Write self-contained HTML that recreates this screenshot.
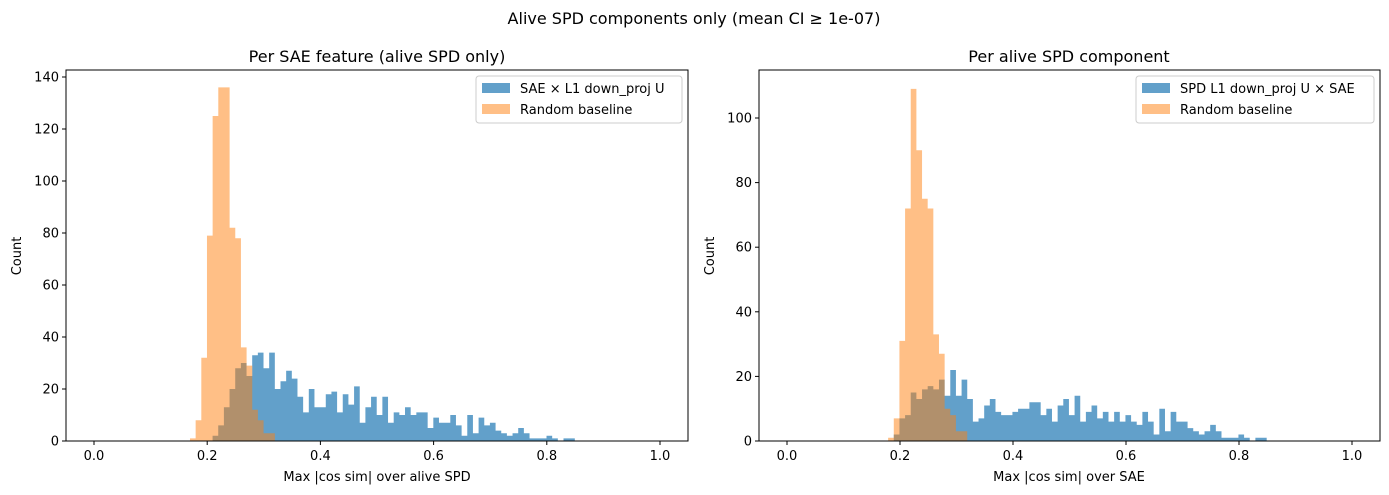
<!DOCTYPE html>
<html><head><meta charset="utf-8"><style>
body{margin:0;background:#fff}
svg{display:block;font-family:"DejaVu Sans","Liberation Sans",sans-serif}
</style></head><body>
<svg id="s" width="1389" height="495" viewBox="0 0 1389 495" xmlns="http://www.w3.org/2000/svg">
<rect width="1389" height="495" fill="#fff"/>
<text x="694" y="24" font-size="16" text-anchor="middle">Alive SPD components only (mean CI ≥ 1e-07)</text>
<text x="377" y="62" font-size="16" text-anchor="middle">Per SAE feature (alive SPD only)</text>
<text x="1069" y="62" font-size="16" text-anchor="middle">Per alive SPD component</text>
<text x="377" y="481" font-size="13" text-anchor="middle">Max |cos sim| over alive SPD</text>
<text x="1069" y="481" font-size="13" text-anchor="middle">Max |cos sim| over SAE</text>
<text transform="translate(21,256) rotate(-90)" font-size="13" text-anchor="middle">Count</text>
<text transform="translate(714,256) rotate(-90)" font-size="13" text-anchor="middle">Count</text>
<g id="g"></g>
</svg>
<script>
const g=document.getElementById('g');let h='';
function stepPath(arr,start,ox,sx,sy){
 const y0=441;let x=ox+sx*start;let d=`M${x},${y0}`;
 arr.forEach((c,i)=>{const a=ox+sx*(start+i*0.01),b=ox+sx*(start+(i+1)*0.01),y=y0-c*sy;d+=`L${a},${y}L${b},${y}`;});
 d+=`L${ox+sx*(start+arr.length*0.01)},${y0}Z`;return d;
}
function axes(x0,x1,ox,sx,sy,tmax,step,bl,blS,or,orS,leg){
 const y0=441;
 h+=`<path d="${stepPath(bl,blS,ox,sx,sy)}" fill="#1f77b4" fill-opacity="0.7"/>`;
 h+=`<path d="${stepPath(or,orS,ox,sx,sy)}" fill="#ff7f0e" fill-opacity="0.5"/>`;
 h+=`<rect x="${x0}" y="70" width="${x1-x0}" height="371" fill="none" stroke="#000" stroke-width="1"/>`;
 for(let v=0;v<=tmax;v+=step){const y=y0-v*sy;h+=`<line x1="${x0}" x2="${x0-4}" y1="${y}" y2="${y}" stroke="#000"/><text x="${x0-7}" y="${y+4.5}" font-size="13" text-anchor="end">${v}</text>`;}
 for(let k=0;k<=5;k++){const v=k*0.2,x=ox+sx*v;h+=`<line x1="${x}" x2="${x}" y1="441" y2="445" stroke="#000"/><text x="${x}" y="460" font-size="13" text-anchor="middle">${v.toFixed(1)}</text>`;}
 const lx=leg.x,lw=leg.w;
 h+=`<rect x="${lx}" y="76" width="${lw}" height="47" rx="3" fill="#fff" fill-opacity="0.8" stroke="#ccc"/>`;
 h+=`<rect x="${lx+6}" y="83" width="28" height="10" fill="#1f77b4" fill-opacity="0.7"/><text x="${lx+44}" y="93" font-size="13">${leg.t}</text>`;
 h+=`<rect x="${lx+6}" y="104" width="28" height="10" fill="#ff7f0e" fill-opacity="0.5"/><text x="${lx+44}" y="114" font-size="13">Random baseline</text>`;
}
const lb=[2,6,13,20,28,30,25,33,34,28,34,20,23,27,24,17,11,20,13,13,18,19,11,18,14,21,7,13,17,10,17,7,11,10,13,10,11,11,5,9,7,7,10,6,2,10,3,9,6,7,4,3,2,3,5,3,1,1,1,2,1,0,1,1];
const lo=[1,8,32,79,125,136,136,82,78,36,29,12,8,3,3];
axes(66,688,94,566,2.6,140,20,lb,0.2095,lo,0.1696,{x:476,w:206,t:"SAE × L1 down_proj U"});
const rb=[2,7,8,15,13,16,17,16,19,14,22,14,19,13,6,7,11,13,9,8,8,9,10,10,12,12,8,10,6,11,13,8,14,6,9,11,7,9,6,9,6,8,6,5,9,6,2,10,3,9,6,6,4,3,2,3,5,3,1,1,1,2,1,0,1,1];
const ro=[1,7,31,72,109,90,75,72,33,27,10,8,3,3];
axes(759,1380,787,565,3.23,100,20,rb,0.189,ro,0.179,{x:1136,w:238,t:"SPD L1 down_proj U × SAE"});
g.innerHTML=h;
</script>
</body></html>
